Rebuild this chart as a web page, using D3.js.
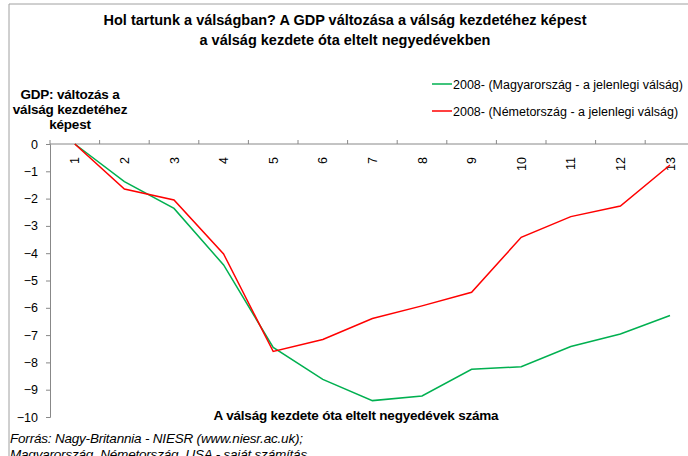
<!DOCTYPE html>
<html>
<head>
<meta charset="utf-8">
<script src="https://cdn.jsdelivr.net/npm/d3@7"></script>
<style>
  body { margin: 0; background: #fff; }
  svg { display: block; font-family: "Liberation Sans", Arial, sans-serif; }
</style>
</head>
<body>
<svg id="chart" width="688" height="456"></svg>
<script>
const quarters = ["1","2","3","4","5","6","7","8","9","10","11","12","13"];
const hungary = [0, -1.38, -2.36, -4.43, -7.45, -8.62, -9.40, -9.23, -8.25, -8.16, -7.42, -6.96, -6.28];
const germany = [0, -1.65, -2.05, -4.03, -7.60, -7.16, -6.39, -5.93, -5.43, -3.42, -2.66, -2.27, -0.77];
const yTicks = [0, -1, -2, -3, -4, -5, -6, -7, -8, -9, -10];
const seriesNames = ["2008- (Magyarország - a jelenlegi válság)", "2008- (Németország - a jelenlegi válság)"];
const seriesColors = ["#00b050", "#ff0000"];

const svg = d3.select("#chart");

// frame
svg.append("path")
    .attr("d", "M9,456V4H688")
    .attr("fill", "none")
    .attr("stroke", "#a0a0a0")
    .attr("stroke-width", 1);

// title
svg.append("text")
    .attr("x", 345).attr("y", 25)
    .attr("text-anchor", "middle")
    .style("font-size", "14.5px").style("font-weight", "bold")
    .text("Hol tartunk a válságban? A GDP változása a válság kezdetéhez képest");
svg.append("text")
    .attr("x", 345).attr("y", 45)
    .attr("text-anchor", "middle")
    .style("font-size", "14.5px").style("font-weight", "bold")
    .text("a válság kezdete óta eltelt negyedévekben");

const x = d3.scaleBand().domain(quarters).range([50, 50 + 13 * 49.6]);
const y = d3.scaleLinear().domain([0, -10]).range([144, 417]);

// y axis
const yAxis = svg.append("g")
    .attr("transform", "translate(50,0)")
    .call(d3.axisLeft(y).tickValues(yTicks).tickSize(4).tickPadding(8).tickFormat(d3.format("d")));
yAxis.select(".domain").attr("stroke", "#888");
yAxis.selectAll(".tick line").attr("stroke", "#888");
yAxis.selectAll("text").style("font-size", "12.5px").attr("fill", "#000").style("font-family", "Liberation Sans, Arial, sans-serif");

// x axis along y=0, ticks between categories
const xAxis = svg.append("g")
    .attr("transform", `translate(0,${y(0)})`);
xAxis.append("line")
    .attr("x1", 50).attr("x2", 688)
    .attr("stroke", "#888");
xAxis.selectAll(".xt")
    .data(quarters)
    .join("line")
    .attr("class", "xt")
    .attr("x1", d => x(d)).attr("x2", d => x(d))
    .attr("y1", 0).attr("y2", -4)
    .attr("stroke", "#888");
xAxis.selectAll(".xl")
    .data(quarters)
    .join("text")
    .attr("class", "xl")
    .attr("transform", d => `translate(${x(d) + x.bandwidth() / 2 + 4.5},13) rotate(-90)`)
    .attr("text-anchor", "end")
    .style("font-size", "12.5px")
    .text(d => d);

// lines
const line = d3.line()
    .x((d, i) => x(quarters[i]) + x.bandwidth() / 2)
    .y(d => y(d));
[hungary, germany].forEach((s, i) => {
  svg.append("path")
      .datum(s)
      .attr("fill", "none")
      .attr("stroke", seriesColors[i])
      .attr("stroke-width", 1.5)
      .attr("d", line);
});

// legend
const legend = svg.append("g");
seriesNames.forEach((n, i) => {
  const ly = 84 + i * 27;
  legend.append("line")
      .attr("x1", 432).attr("x2", 452)
      .attr("y1", ly).attr("y2", ly)
      .attr("stroke", seriesColors[i]).attr("stroke-width", 1.5);
  legend.append("text")
      .attr("x", 453).attr("y", ly + 4.5)
      .style("font-size", "12.5px")
      .text(n);
});

// y axis title
const yTitle = ["GDP: változás a", "válság kezdetéhez", "képest"];
svg.append("g").selectAll("text")
    .data(yTitle)
    .join("text")
    .attr("x", 70)
    .attr("y", (d, i) => 99 + i * 15)
    .attr("text-anchor", "middle")
    .style("font-size", "13.5px").style("font-weight", "bold")
    .style("letter-spacing", "-0.2px")
    .text(d => d);

// x axis title
svg.append("text")
    .attr("x", 356).attr("y", 420)
    .attr("text-anchor", "middle")
    .style("font-size", "13.5px").style("font-weight", "bold")
    .style("letter-spacing", "-0.2px")
    .text("A válság kezdete óta eltelt negyedévek száma");

// source
const source = ["Forrás: Nagy-Britannia - NIESR (www.niesr.ac.uk);", "Magyarország, Németország, USA - saját számítás"];
svg.append("g").selectAll("text")
    .data(source)
    .join("text")
    .attr("x", 10)
    .attr("y", (d, i) => 443 + i * 16)
    .style("font-size", "13.5px").style("font-style", "italic")
    .style("letter-spacing", "-0.2px")
    .text(d => d);
</script>
</body>
</html>
